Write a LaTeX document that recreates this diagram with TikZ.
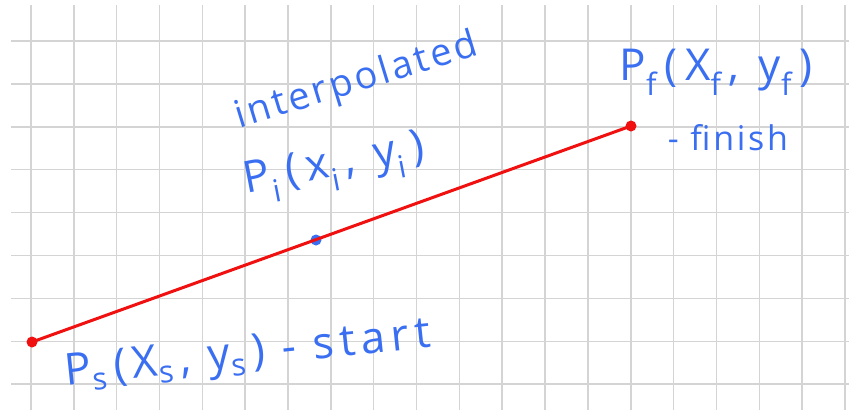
\documentclass[tikz,border=0pt]{standalone}
\usepackage{fontspec}
\setmainfont{Open Sans}
\definecolor{gridgray}{HTML}{D4D4D4}
\definecolor{penblue}{HTML}{3A6FF2}
\definecolor{penred}{HTML}{F01010}
\begin{document}
\begin{tikzpicture}[x=1pt,y=-1pt,
  gridline/.style={draw=gridgray,line width=1.5pt},
  hand/.style={text=penblue,inner sep=0pt},
  seg/.style={draw=penred,line width=3pt},
  reddot/.style={circle,fill=penred,inner sep=0pt,minimum size=11pt},
  bluedot/.style={circle,fill=penblue,inner sep=0pt,minimum size=11pt}]
\useasboundingbox (0,0) rectangle (849,410);
\fill[white] (0,0) rectangle (849,410);
\foreach \i in {0,...,19} {
  \draw[gridline] ({31+42.84*\i},5) -- ({31+42.84*\i},410);
}
\foreach \j in {0,...,8} {
  \draw[gridline] (11,{41+42.9*\j}) -- (849,{41+42.9*\j});
}
\node[reddot] (ps) at (32,342) {};
\node[reddot] (pf) at (631,126) {};
\node[bluedot] (pi) at (316,240) {};
\draw[seg] (ps.center) -- (pf.center);
\node[hand,rotate=17,font=\fontsize{38}{38}\selectfont\addfontfeature{LetterSpace=8}] (interp) at (357,82) {interpolated};
\node[hand,rotate=11,font=\fontsize{44}{44}\selectfont\addfontfeature{LetterSpace=18}] (lpi) at (335,168) {P\textsubscript{i}\,(x\textsubscript{i}\,, y\textsubscript{i}\,)};
\node[hand,font=\fontsize{44}{44}\selectfont\addfontfeature{LetterSpace=18}] (lpf) at (716,72) {P\textsubscript{f}\,(X\textsubscript{f}\,, y\textsubscript{f}\,)};
\node[hand,font=\fontsize{34}{34}\selectfont\addfontfeature{LetterSpace=8}] (fin) at (728,138) {- finish};
\node[hand,rotate=6,font=\fontsize{44}{44}\selectfont\addfontfeature{LetterSpace=13}] (lps) at (248,356) {P\textsubscript{s}\,(X\textsubscript{s}\,, y\textsubscript{s}\,) - start};
\end{tikzpicture}
\end{document}
